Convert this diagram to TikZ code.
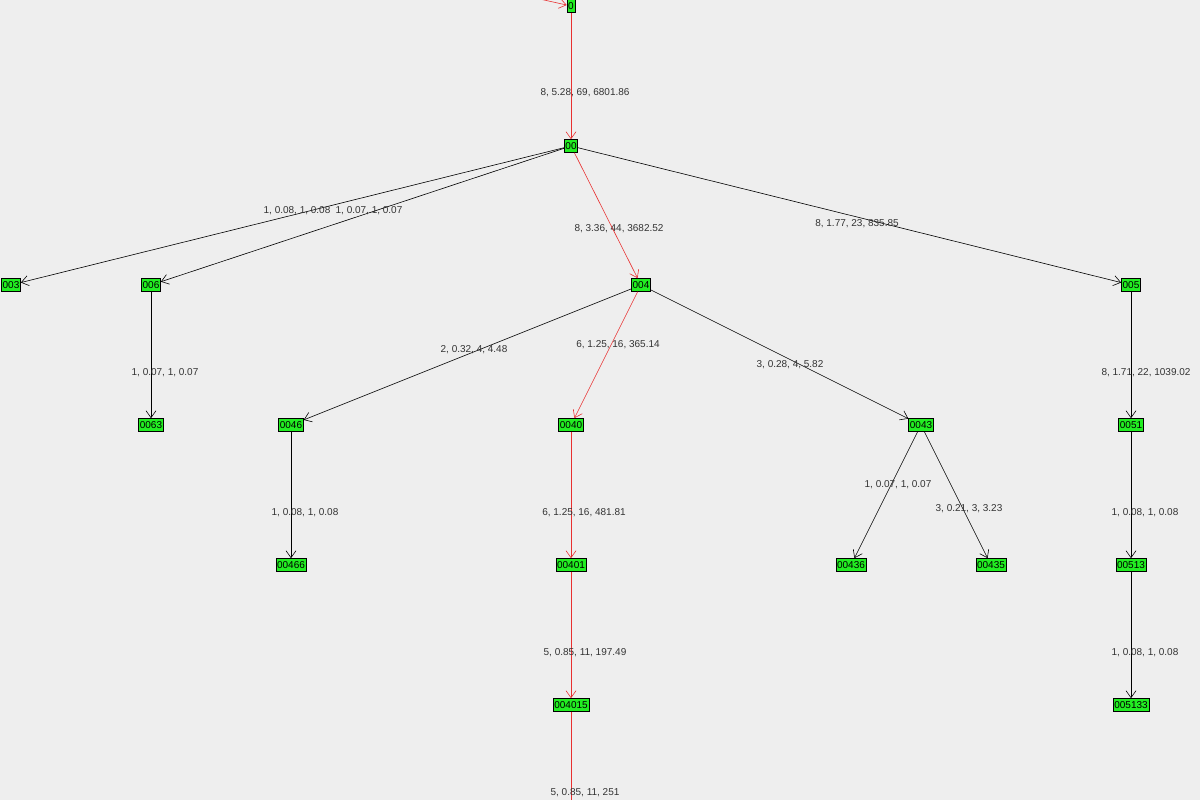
\documentclass[tikz,border=0pt]{standalone}
\usepackage{fontspec}
\setmainfont{Liberation Sans}
\usetikzlibrary{arrows.meta}
\definecolor{bg}{HTML}{EEEEEE}
\definecolor{gr}{HTML}{22EE22}
\definecolor{rd}{HTML}{E83030}
\definecolor{lb}{HTML}{333333}
\begin{document}
\begin{tikzpicture}[x=1pt,y=-1pt,
  nd/.style={draw=black,fill=gr,inner sep=1.2pt,font=\fontsize{10}{10}\selectfont,line width=0.6pt,minimum height=13pt},
  ed/.style={draw=black,line width=0.6pt,-{Straight Barb[length=7pt,width=10pt]}},
  red/.style={draw=rd},
  lab/.style={text=lb,font=\fontsize{10}{10}\selectfont,inner sep=0pt}]
\fill[bg] (0,0) rectangle (1200,800);
\clip (0,0) rectangle (1200,800);
\node[nd] (n0) at (571,6) {0};
\node[nd] (n00) at (571,146) {00};
\node[nd] (n003) at (11,285) {003};
\node[nd] (n006) at (151,285) {006};
\node[nd] (n004) at (641,285) {004};
\node[nd] (n005) at (1131,285) {005};
\node[nd] (n0063) at (151,425) {0063};
\node[nd] (n0046) at (291,425) {0046};
\node[nd] (n0040) at (571,425) {0040};
\node[nd] (n0043) at (921,425) {0043};
\node[nd] (n0051) at (1131,425) {0051};
\node[nd] (n00466) at (291,565) {00466};
\node[nd] (n00401) at (571,565) {00401};
\node[nd] (n00436) at (851,565) {00436};
\node[nd] (n00435) at (991,565) {00435};
\node[nd] (n00513) at (1131,565) {00513};
\node[nd] (n004015) at (571,705) {004015};
\node[nd] (n005133) at (1131,705) {005133};
\coordinate (top) at (490,-12);
\coordinate (bot) at (571,820);
\draw[ed,red] (top) -- (n0);
\draw[ed,red] (n0) -- (n00);
\draw[ed] (n00) -- (n003);
\draw[ed] (n00) -- (n006);
\draw[ed,red] (n00) -- (n004);
\draw[ed] (n00) -- (n005);
\draw[ed] (n006) -- (n0063);
\draw[ed] (n004) -- (n0046);
\draw[ed,red] (n004) -- (n0040);
\draw[ed] (n004) -- (n0043);
\draw[ed] (n005) -- (n0051);
\draw[ed] (n0046) -- (n00466);
\draw[ed,red] (n0040) -- (n00401);
\draw[ed] (n0043) -- (n00436);
\draw[ed] (n0043) -- (n00435);
\draw[ed] (n0051) -- (n00513);
\draw[ed,red] (n00401) -- (n004015);
\draw[ed] (n00513) -- (n005133);
\draw[red,line width=0.6pt] (n004015) -- (bot);
\node[lab] (l1) at (585,93) {8, 5.28, 69, 6801.86};
\node[lab] (l2) at (297,211) {1, 0.08, 1, 0.08};
\node[lab] (l3) at (369,211) {1, 0.07, 1, 0.07};
\node[lab] (l4) at (619,229) {8, 3.36, 44, 3682.52};
\node[lab] (l5) at (857,224) {8, 1.77, 23, 835.85};
\node[lab] (l6) at (165,373) {1, 0.07, 1, 0.07};
\node[lab] (l7) at (474,350) {2, 0.32, 4, 4.48};
\node[lab] (l8) at (618,345) {6, 1.25, 16, 365.14};
\node[lab] (l9) at (790,365) {3, 0.28, 4, 5.82};
\node[lab] (l10) at (1146,373) {8, 1.71, 22, 1039.02};
\node[lab] (l11) at (305,513) {1, 0.08, 1, 0.08};
\node[lab] (l12) at (584,513) {6, 1.25, 16, 481.81};
\node[lab] (l13) at (898,485) {1, 0.07, 1, 0.07};
\node[lab] (l14) at (969,509) {3, 0.21, 3, 3.23};
\node[lab] (l15) at (1145,513) {1, 0.08, 1, 0.08};
\node[lab] (l16) at (585,653) {5, 0.85, 11, 197.49};
\node[lab] (l17) at (1145,653) {1, 0.08, 1, 0.08};
\node[lab] (l18) at (585,793) {5, 0.85, 11, 251};
\end{tikzpicture}
\end{document}
